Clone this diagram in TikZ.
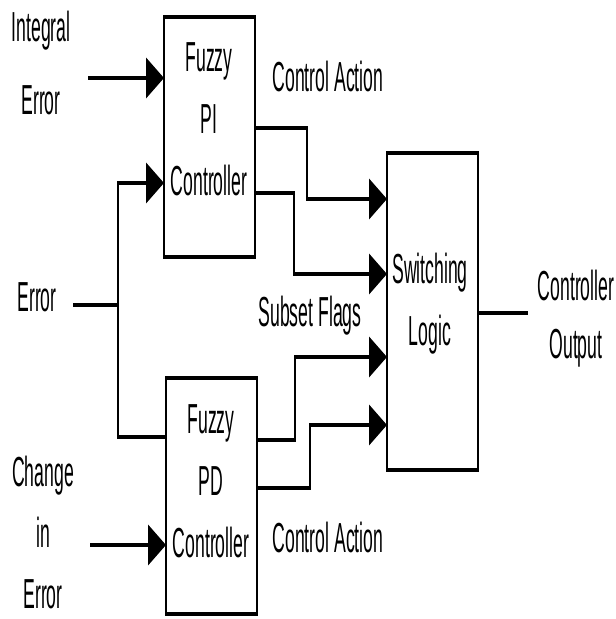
\documentclass[tikz,border=0pt]{standalone}
\usepackage{fontspec}
\setmainfont{Liberation Sans}[FakeStretch=0.84]
\usetikzlibrary{arrows.meta}

\begin{document}
\begin{tikzpicture}[x=0.5pt,y=-0.5pt]
  \useasboundingbox (0,0) rectangle (615,619);

  % everything is drawn twice as wide, then squeezed
  \begin{scope}[x=1pt,transform canvas={xscale=0.5},
      block/.style={draw,line width=2pt,inner sep=0pt,outer sep=0pt,
        anchor=north west,minimum width=91pt},
      wire/.style={line width=2pt},
      feed/.style={wire,-{Triangle[length=18pt,width=20pt]}},
      lbl/.style={anchor=base,align=center,
        font=\fontsize{21}{31}\selectfont}]

    % blocks
    \node[block,minimum height=120pt] (pi) at (164,17) {};
    \node[block,minimum height=118pt] (pd) at (166,378) {};
    \node[block,minimum height=158.5pt] (sw) at (387,153) {};

    % texts (anchored at the last baseline)
    \node[lbl] (pitxt) at (209,196) {Fuzzy\\PI\\Controller};
    \node[lbl] (pdtxt) at (211,557) {Fuzzy\\PD\\Controller};
    \node[lbl] (swtxt) at (430,345) {Switching\\Logic};
    \node[lbl,font=\fontsize{21}{36.5}\selectfont] (interr) at (41,115) {Integral\\Error};
    \node[lbl] (err) at (37,312) {Error};
    \node[lbl,font=\fontsize{21}{30.5}\selectfont] (chgerr) at (43,608) {Change\\in\\Error};
    \node[lbl,font=\fontsize{21}{29}\selectfont] (ctlout) at (576,358) {Controller\\Output};
    \node[lbl] (actpi) at (328,92) {Control Action};
    \node[lbl] (actpd) at (328,552) {Control Action};
    \node[lbl] (flags) at (310,327) {Subset Flags};

    % free ends
    \coordinate (ie) at (88,78);
    \coordinate (eo) at (73,305);
    \coordinate (split) at (118,305);
    \coordinate (ce) at (90,545);
    \coordinate (out) at (528,313);

    % inputs
    \draw[feed] (ie) -- (pi.west |- ie);
    \draw[wire] (eo) -- (split);
    \draw[feed] (split) |- (pi.west |- 0,183);
    \draw[wire] (split) |- (pd.west |- 0,437);
    \draw[feed] (ce) -- (pd.west |- ce);

    % controller outputs into the switch
    \draw[feed] (pi.east |- 0,128) -| (307,199) -- (sw.west |- 0,199);
    \draw[feed] (pi.east |- 0,193) -| (294,274) -- (sw.west |- 0,274);
    \draw[feed] (pd.east |- 0,440) -| (295,357) -- (sw.west |- 0,357);
    \draw[feed] (pd.east |- 0,488) -| (310,425) -- (sw.west |- 0,425);

    % output
    \draw[wire] (sw.east |- out) -- (out);
  \end{scope}
\end{tikzpicture}
\end{document}
